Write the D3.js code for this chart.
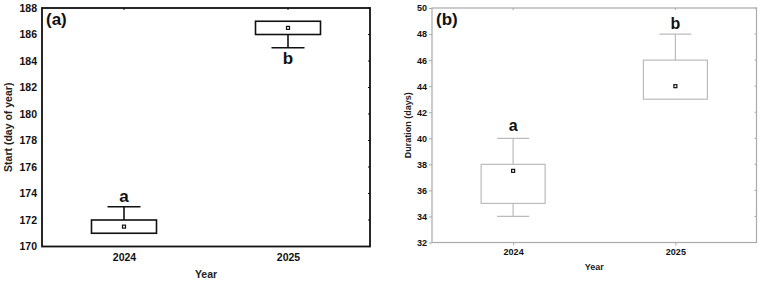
<!DOCTYPE html>
<html>
<head>
<meta charset="utf-8">
<script src="https://cdn.jsdelivr.net/npm/d3@7"></script>
<style>
  body { margin: 0; background: #fff; }
  text { font-family: "Liberation Sans", Arial, sans-serif; }
</style>
</head>
<body>
<svg id="chart" width="762" height="281"></svg>
<script>
var years = ["2024", "2025"];

// panel (a) start day of year
var startMin = [171, 185],
    startQ1 = [171, 186],
    startQ3 = [172, 187],
    startMax = [173, 187],
    startMean = [171.5, 186.5],
    startLetters = ["a", "b"],
    startTicks = [170, 172, 174, 176, 178, 180, 182, 184, 186, 188];

// panel (b) duration in days
var durMin = [34, 43],
    durQ1 = [35, 43],
    durQ3 = [38, 46],
    durMax = [40, 48],
    durMean = [37.5, 44],
    durLetters = ["a", "b"],
    durTicks = [32, 34, 36, 38, 40, 42, 44, 46, 48, 50];

var svg = d3.select("#chart");

function panel(opt) {
    var x = d3.scalePoint().domain(years).range([opt.left, opt.right]).padding(0.5);
    var y = d3.scaleLinear().domain(opt.domain).range([opt.bottom, opt.top]);
    var g = svg.append("g");
    var data = years.map(function(yr, i) {
        return { year: yr, min: opt.min[i], q1: opt.q1[i], q3: opt.q3[i], max: opt.max[i], mean: opt.mean[i], letter: opt.letters[i] };
    });

    // frame
    g.append("rect")
        .attr("x", opt.left).attr("y", opt.top)
        .attr("width", opt.right - opt.left).attr("height", opt.bottom - opt.top)
        .attr("fill", "none")
        .attr("stroke", opt.frameColor)
        .attr("stroke-width", opt.frameWidth);

    // y axis labels
    var yAxis = d3.axisLeft(y).tickValues(opt.ticks).tickSize(opt.tickOut).tickPadding(opt.tickPad);
    var ya = g.append("g").attr("transform", "translate(" + opt.left + ",0)").call(yAxis);
    ya.select(".domain").remove();
    ya.selectAll("line").attr("stroke", opt.frameColor);
    ya.selectAll("text").attr("font-size", opt.tickFont).attr("font-weight", "bold").attr("fill", "#111");

    // mirror ticks right and top
    g.selectAll(".rt").data(opt.ticks).enter().append("line")
        .attr("x1", opt.right).attr("x2", opt.right - 2)
        .attr("y1", function(d) { return y(d); }).attr("y2", function(d) { return y(d); })
        .attr("stroke", opt.frameColor);
    g.selectAll(".tt").data(years).enter().append("line")
        .attr("x1", function(d) { return x(d); }).attr("x2", function(d) { return x(d); })
        .attr("y1", opt.top).attr("y2", opt.top + 2)
        .attr("stroke", opt.frameColor);

    // x axis labels
    var xAxis = d3.axisBottom(x).tickSize(opt.tickOut).tickPadding(opt.xPad);
    var xa = g.append("g").attr("transform", "translate(0," + opt.bottom + ")").call(xAxis);
    xa.select(".domain").remove();
    xa.selectAll("line").attr("stroke", opt.frameColor);
    xa.selectAll("text").attr("font-size", opt.tickFont).attr("font-weight", "bold").attr("fill", "#111");

    // boxes
    var bw = opt.boxWidth, cw = opt.capWidth;
    var box = g.selectAll(".box").data(data).enter().append("g");
    box.append("line")
        .attr("x1", function(d) { return x(d.year); }).attr("x2", function(d) { return x(d.year); })
        .attr("y1", function(d) { return y(d.max); }).attr("y2", function(d) { return y(d.q3); })
        .attr("stroke", opt.boxColor).attr("stroke-width", opt.boxStroke);
    box.append("line")
        .attr("x1", function(d) { return x(d.year); }).attr("x2", function(d) { return x(d.year); })
        .attr("y1", function(d) { return y(d.min); }).attr("y2", function(d) { return y(d.q1); })
        .attr("stroke", opt.boxColor).attr("stroke-width", opt.boxStroke);
    box.filter(function(d) { return d.max > d.q3; }).append("line")
        .attr("x1", function(d) { return x(d.year) - cw / 2; }).attr("x2", function(d) { return x(d.year) + cw / 2; })
        .attr("y1", function(d) { return y(d.max); }).attr("y2", function(d) { return y(d.max); })
        .attr("stroke", opt.boxColor).attr("stroke-width", opt.boxStroke);
    box.filter(function(d) { return d.min < d.q1; }).append("line")
        .attr("x1", function(d) { return x(d.year) - cw / 2; }).attr("x2", function(d) { return x(d.year) + cw / 2; })
        .attr("y1", function(d) { return y(d.min); }).attr("y2", function(d) { return y(d.min); })
        .attr("stroke", opt.boxColor).attr("stroke-width", opt.boxStroke);
    box.append("rect")
        .attr("x", function(d) { return x(d.year) - bw / 2; })
        .attr("y", function(d) { return y(d.q3); })
        .attr("width", bw)
        .attr("height", function(d) { return y(d.q1) - y(d.q3); })
        .attr("fill", "white")
        .attr("stroke", opt.boxColor).attr("stroke-width", opt.boxStroke);
    box.append("rect")
        .attr("x", function(d) { return x(d.year) - 1.5; })
        .attr("y", function(d) { return y(d.mean) - 1.5; })
        .attr("width", 3).attr("height", 3)
        .attr("fill", "white").attr("stroke", "#111").attr("stroke-width", 1.2);

    // significance letters
    box.append("text")
        .attr("x", function(d) { return x(d.year); })
        .attr("y", function(d, i) { return y(opt.letterPos[i]); })
        .attr("text-anchor", "middle")
        .attr("dy", "0.35em")
        .attr("font-size", opt.letterFont)
        .attr("font-weight", "bold")
        .attr("fill", "#111")
        .text(function(d) { return d.letter; });

    // panel label
    g.append("text")
        .attr("x", opt.left + 4).attr("y", opt.top + 17)
        .attr("font-size", 17).attr("font-weight", "bold").attr("fill", "#111")
        .text(opt.tag);

    // axis titles
    g.append("text")
        .attr("x", (opt.left + opt.right) / 2).attr("y", opt.xTitleY)
        .attr("text-anchor", "middle")
        .attr("font-size", opt.titleFont).attr("font-weight", "bold").attr("fill", "#222")
        .text("Year");
    g.append("text")
        .attr("transform", "translate(" + opt.yTitleX + "," + ((opt.top + opt.bottom) / 2) + ") rotate(-90)")
        .attr("text-anchor", "middle")
        .attr("font-size", opt.titleFont).attr("font-weight", "bold").attr("fill", "#222")
        .text(opt.yTitle);
}

panel({
    left: 42, right: 370, top: 8, bottom: 246.5,
    domain: [170, 188], ticks: startTicks,
    min: startMin, q1: startQ1, q3: startQ3, max: startMax, mean: startMean, letters: startLetters,
    letterPos: [173.8, 184.2],
    frameColor: "#111", frameWidth: 1.8, boxColor: "#111", boxStroke: 1.6,
    boxWidth: 65, capWidth: 33,
    tickOut: 0, tickPad: 5, xPad: 7, tickFont: 10.5, letterFont: 17, titleFont: 10.5,
    tag: "(a)", yTitle: "Start (day of year)", yTitleX: 12, xTitleY: 278
});

panel({
    left: 432, right: 756.5, top: 8, bottom: 242.5,
    domain: [32, 50], ticks: durTicks,
    min: durMin, q1: durQ1, q3: durQ3, max: durMax, mean: durMean, letters: durLetters,
    letterPos: [41, 48.8],
    frameColor: "#aaa", frameWidth: 1.2, boxColor: "#bbb", boxStroke: 1.2,
    boxWidth: 64, capWidth: 32,
    tickOut: 3, tickPad: 2, xPad: 3, tickFont: 9, letterFont: 16, titleFont: 9,
    tag: "(b)", yTitle: "Duration (days)", yTitleX: 411, xTitleY: 270
});
</script>
</body>
</html>
